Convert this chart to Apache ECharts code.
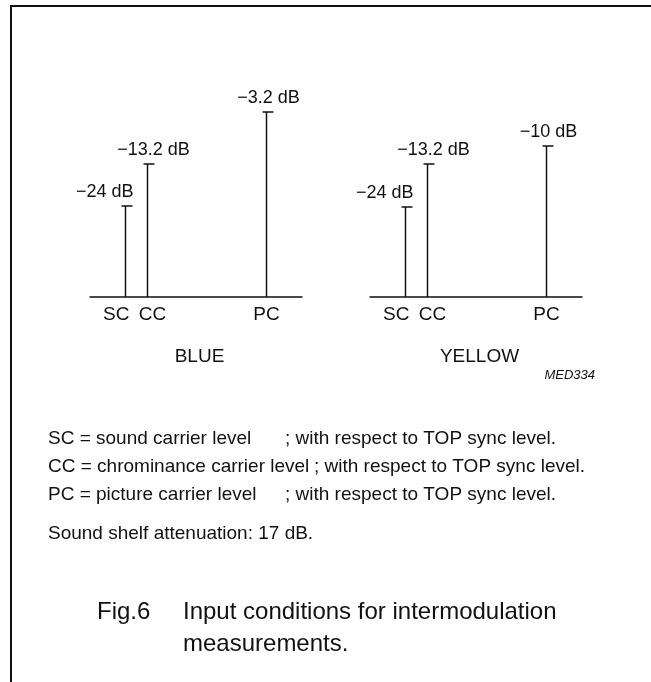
<!DOCTYPE html>
<html>
<head>
<meta charset="utf-8">
<script src="https://cdn.jsdelivr.net/npm/echarts@6/dist/echarts.min.js"></script>
<style>
html,body{margin:0;padding:0;background:#fff;}
#chart{width:651px;height:682px;}
</style>
</head>
<body>
<div id="chart"></div>
<script>
// ---- data ----
const carriers = ['SC', 'CC', 'PC'];
const carrierPos = [35, 57, 176];          // schematic frequency position of each carrier
const panels = ['BLUE', 'YELLOW'];
const blueDb = [-24, -13.2, -3.2];
const yellowDb = [-24, -13.2, -10];
const blueHeight = [91, 133, 185];          // drawn (schematic) line heights
const yellowHeight = [90, 133, 151];
const noteLeft = ['SC = sound carrier level', 'CC = chrominance carrier level', 'PC = picture carrier level'];
const noteRight = '; with respect to TOP sync level.';
const shelfNote = 'Sound shelf attenuation: 17 dB.';
const figLabel = 'Fig.6';
const captionLines = ['Input conditions for intermodulation', 'measurements.'];
const code = 'MED334';

const FONT = '"Liberation Sans", Arial, Helvetica, sans-serif';
const INK = '#111';

function dbText(v) { return (v < 0 ? '\u2212' : '') + Math.abs(v) + ' dB'; }

// per-carrier label placement (style)
const dbLabelStyle = [
  { dx: 8, align: 'right' },
  { dx: 6, align: 'center' },
  { dx: 2, align: 'center' }
];
const nameLabelStyle = [
  { dx: 4, align: 'right' },
  { dx: 5, align: 'center' },
  { dx: 0, align: 'center' }
];

function renderItem(params, api) {
  const i = params.dataIndex;
  const x = api.value(0), h = api.value(1), db = api.value(2);
  const base = api.coord([x, 0]);
  const top = api.coord([x, h]);
  const sx = Math.round(base[0]) + 0.5;
  return {
    type: 'group',
    children: [
      { type: 'line', shape: { x1: sx, y1: base[1], x2: sx, y2: top[1] },
        style: { stroke: INK, lineWidth: 1.5 } },
      { type: 'line', shape: { x1: sx - 4, y1: top[1], x2: sx + 7, y2: top[1] },
        style: { stroke: INK, lineWidth: 1.5 } },
      { type: 'text', x: sx + dbLabelStyle[i].dx, y: top[1] - 14,
        style: { text: dbText(db), font: '18px ' + FONT, fill: INK,
                 align: dbLabelStyle[i].align, verticalAlign: 'middle' } },
      { type: 'text', x: sx + nameLabelStyle[i].dx, y: base[1] + 18,
        style: { text: carriers[i], font: '19px ' + FONT, fill: INK,
                 align: nameLabelStyle[i].align, verticalAlign: 'middle' } }
    ]
  };
}

function panelData(heights, dbs) {
  return carriers.map((c, i) => [carrierPos[i], heights[i], dbs[i]]);
}

const gridLefts = [90, 370];
const grids = gridLefts.map(l => ({ left: l, top: 97, width: 212, height: 200 }));
const xAxes = panels.map((p, k) => ({
  type: 'value', gridIndex: k, min: 0, max: 212,
  axisLine: { show: true, onZero: false, lineStyle: { color: INK, width: 1.5 } },
  axisTick: { show: false }, axisLabel: { show: false }, splitLine: { show: false },
  name: p, nameLocation: 'middle', nameGap: 50,
  nameTextStyle: { color: INK, fontSize: 19, fontFamily: FONT, padding: [0, 0, 0, 7] }
}));
const yAxes = panels.map((p, k) => ({
  type: 'value', gridIndex: k, min: 0, max: 200, show: false
}));

const seriesData = [panelData(blueHeight, blueDb), panelData(yellowHeight, yellowDb)];
const series = seriesData.map((d, k) => ({
  type: 'custom', xAxisIndex: k, yAxisIndex: k, data: d, renderItem: renderItem, silent: true
}));

const graphics = [
  { type: 'line', shape: { x1: 10, y1: 6, x2: 651, y2: 6 }, style: { stroke: INK, lineWidth: 2 } },
  { type: 'line', shape: { x1: 11, y1: 6, x2: 11, y2: 682 }, style: { stroke: INK, lineWidth: 2 } },
  { type: 'text', x: 595, y: 375, style: { text: code, font: 'italic 13px ' + FONT, fill: INK, align: 'right', verticalAlign: 'middle' } }
];
const noteY = [439, 467, 495];
const noteRightX = [285, 314, 285];
noteLeft.forEach((t, i) => {
  graphics.push({ type: 'text', x: 48, y: noteY[i], style: { text: t, font: '19px ' + FONT, fill: INK, verticalAlign: 'middle' } });
  graphics.push({ type: 'text', x: noteRightX[i], y: noteY[i], style: { text: noteRight, font: '19px ' + FONT, fill: INK, verticalAlign: 'middle' } });
});
graphics.push({ type: 'text', x: 48, y: 534, style: { text: shelfNote, font: '19px ' + FONT, fill: INK, verticalAlign: 'middle' } });
graphics.push({ type: 'text', x: 97, y: 612, style: { text: figLabel, font: '24px ' + FONT, fill: INK, verticalAlign: 'middle' } });
captionLines.forEach((t, i) => {
  graphics.push({ type: 'text', x: 183, y: 612 + i * 32, style: { text: t, font: '24px ' + FONT, fill: INK, verticalAlign: 'middle' } });
});

const chart = echarts.init(document.getElementById('chart'), null, { renderer: 'canvas' });
chart.setOption({
  animation: false,
  backgroundColor: '#fff',
  grid: grids,
  xAxis: xAxes,
  yAxis: yAxes,
  series: series,
  graphic: graphics
});
</script>
</body>
</html>
